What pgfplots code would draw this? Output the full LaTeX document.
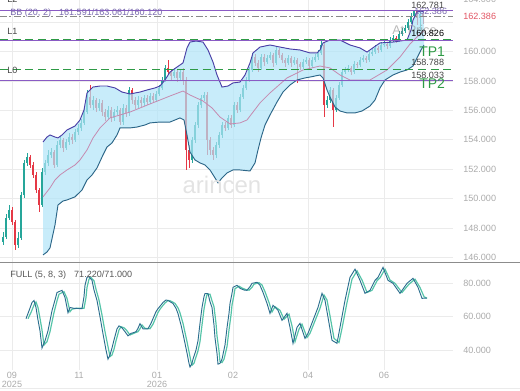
\documentclass[border=0pt]{standalone}
\usepackage{pgfplots}
\pgfplotsset{compat=1.18}
\usepackage{pgfplotstable}
\usepackage{fontspec}
\setmainfont{Liberation Sans}
\definecolor{cup}{HTML}{26A69A}
\definecolor{cdn}{HTML}{E53946}
\definecolor{bbfill}{HTML}{B0E4F8}
\definecolor{bbup}{HTML}{4A3FA6}
\definecolor{bblo}{HTML}{2C6688}
\definecolor{bbmid}{HTML}{C58AB0}
\definecolor{lvlpurple}{HTML}{8A5BC4}
\definecolor{lvlgreen}{HTML}{2E9A45}
\definecolor{ticklab}{HTML}{ABABAB}
\definecolor{gridc}{HTML}{EBEBEB}
\definecolor{stk}{HTML}{2B6E8E}
\definecolor{std}{HTML}{55C4A8}
\definecolor{pricered}{HTML}{E25563}
\definecolor{bbtext}{HTML}{7A6AAE}
\definecolor{divc}{HTML}{8C8C8C}
\definecolor{dgray}{HTML}{444444}

\pgfplotstableread{
x o h l c
3 147.05 147.73 146.85 147.39
6 147.39 148.96 147.26 148.69
9 148.69 149.57 148.55 149.23
12 149.23 149.43 148.21 148.41
15 148.41 148.55 146.51 146.85
18 146.85 147.73 146.65 147.33
21 147.33 150.45 147.19 150.25
24 150.25 152.63 150.05 152.43
27 152.43 153.11 152.22 152.83
30 152.83 152.97 152.09 152.29
33 152.29 152.49 151.41 151.61
36 151.61 151.81 150.39 150.59
39 150.59 150.73 149.09 149.57
42 149.57 152.09 149.43 151.81
45 151.81 152.63 151.61 152.43
48 152.43 153.31 152.22 152.97
51 152.97 153.45 152.77 153.17
54 153.17 153.31 152.09 152.29
57 152.29 153.92 152.15 153.65
60 153.65 154.26 153.45 153.99
63 153.99 154.13 153.17 153.45
66 153.45 154.06 153.31 153.85
69 153.85 154.47 153.65 154.19
72 154.19 154.40 153.72 153.99
75 153.99 154.74 153.85 154.53
78 154.53 155.08 154.33 154.81
81 154.81 155.42 154.60 155.15
84 155.15 156.17 155.01 155.89
87 155.89 157.39 155.76 156.91
90 156.91 157.73 156.17 156.37
93 156.37 156.98 156.03 156.71
96 156.71 156.85 155.89 156.17
99 156.17 156.78 155.96 156.51
102 156.51 156.71 155.62 155.89
105 155.89 156.10 155.28 155.55
108 155.55 156.30 155.42 156.03
111 156.03 156.23 155.21 155.49
114 155.49 156.10 155.28 155.89
117 155.89 156.30 155.69 156.03
120 156.03 156.17 155.01 155.21
123 155.21 156.44 155.01 156.17
126 156.17 156.37 155.55 155.83
129 155.83 157.59 155.62 157.39
132 157.39 157.53 156.44 156.71
135 156.71 156.91 156.10 156.37
138 156.37 156.98 156.17 156.71
141 156.71 156.91 156.23 156.51
144 156.51 157.05 156.30 156.85
147 156.85 157.05 156.37 156.57
150 156.57 157.19 156.44 156.98
153 156.98 157.19 156.51 156.71
156 156.71 157.32 156.57 157.12
159 157.12 157.73 156.98 157.53
162 157.53 158.27 157.39 158.07
165 158.07 159.09 157.93 158.89
168 158.89 159.43 158.41 158.61
171 158.61 158.75 158.07 158.34
174 158.34 158.89 158.21 158.61
177 158.61 158.75 157.93 158.21
180 158.21 158.82 158.07 158.61
183 158.61 158.89 157.73 158.07
186 158.07 158.27 151.95 153.31
189 153.31 153.65 152.09 152.63
192 152.63 154.19 152.43 153.99
195 153.99 155.21 153.79 155.01
198 155.01 156.57 154.81 156.37
201 156.37 157.05 156.17 156.85
204 156.85 157.25 156.64 157.05
207 157.05 157.25 152.97 153.99
210 153.99 154.19 152.97 153.31
213 153.31 153.51 152.63 152.97
216 152.97 153.85 152.77 153.65
219 153.65 154.53 153.45 154.33
222 154.33 155.21 154.13 155.01
225 155.01 155.21 154.60 154.81
228 154.81 155.69 154.67 155.49
231 155.49 155.69 154.81 155.01
234 155.01 156.57 154.87 156.37
237 156.37 156.57 155.83 156.03
240 156.03 157.12 155.89 156.91
243 156.91 157.73 156.78 157.53
246 157.53 158.27 157.39 158.07
249 158.07 158.95 157.93 158.75
252 158.75 159.91 158.61 159.63
255 159.63 159.84 159.02 159.23
258 159.23 159.43 158.61 158.89
261 158.89 159.84 158.75 159.63
264 159.63 159.84 159.02 159.29
267 159.29 159.77 159.16 159.57
270 159.57 159.97 159.43 159.77
273 159.77 159.91 158.95 159.23
276 159.23 160.31 159.09 160.11
279 160.11 160.25 159.57 159.77
282 159.77 159.91 159.23 159.43
285 159.43 159.57 158.95 159.23
288 159.23 159.77 159.09 159.57
291 159.57 159.70 158.95 159.23
294 159.23 159.63 159.09 159.43
297 159.43 159.57 157.87 159.16
300 159.16 159.29 158.75 158.95
303 158.95 159.50 158.82 159.29
306 159.29 159.63 159.16 159.43
309 159.43 159.57 158.82 159.02
312 159.02 159.63 158.89 159.43
315 159.43 159.84 159.29 159.63
318 159.63 160.11 159.43 159.91
321 159.91 160.79 159.77 160.45
324 160.45 160.65 155.55 156.37
327 156.37 156.98 156.17 156.71
330 156.71 157.59 156.51 157.39
333 157.39 157.53 154.87 156.03
336 156.03 157.05 155.89 156.85
339 156.85 157.93 156.71 157.73
342 157.73 158.82 157.59 158.61
345 158.61 158.95 158.48 158.75
348 158.75 159.09 158.61 158.89
351 158.89 159.02 158.41 158.61
354 158.61 159.36 158.48 159.16
357 159.16 159.29 158.89 159.09
360 159.09 159.63 158.95 159.43
363 159.43 159.77 159.29 159.57
366 159.57 159.70 159.23 159.43
369 159.43 160.04 159.29 159.84
372 159.84 160.18 159.70 159.97
375 159.97 160.45 159.84 160.25
378 160.25 160.38 159.91 160.11
381 160.11 160.65 159.97 160.45
384 160.45 160.72 160.31 160.52
387 160.52 160.65 160.18 160.38
390 160.38 160.99 160.25 160.79
393 160.79 161.13 160.65 160.93
396 160.93 161.06 160.59 160.79
399 160.79 161.40 160.65 161.20
402 161.20 161.61 161.06 161.40
405 161.40 161.81 161.27 161.61
408 161.61 162.22 161.47 162.01
411 162.01 162.63 161.88 162.42
414 162.42 162.78 162.29 162.76
417 162.76 162.78 161.81 162.29
420 162.29 162.75 161.47 162.56
423 162.56 162.70 161.88 162.386
}\candles

\pgfplotsset{
  chartbase/.style={
    scale only axis, xmin=0, xmax=453,
    axis line style={draw=none}, tick style={draw=none},
    grid=major, major grid style={gridc, line width=0.5pt},
    yticklabel pos=right,
    yticklabel style={anchor=west, inner sep=0pt, xshift=7.5pt, text=ticklab, font=\fontsize{6.8}{7}\selectfont},
    /pgf/number format/.cd, fixed, fixed zerofill, precision=3, assume math mode=true,
    /pgfplots/.cd,
    xtick={12,79,157,233,308,384},
    clip=false,
  },
  candle/.style 2 args={draw=none, mark=none, forget plot,
    error bars/.cd, y dir=both, y explicit, error mark=none,
    error bar style={draw=#1, line width=#2}},
}
\tikzset{lbl/.style={anchor=west, inner sep=0pt, font=\fontsize{6.8}{7}\selectfont}}

\begin{document}
\begin{tikzpicture}
\useasboundingbox (0,0) rectangle (390pt,292.5pt);

\begin{axis}[chartbase, at={(0,96pt)}, anchor=south west,
  width=339.75pt, height=196.5pt, ymin=145.69, ymax=163.51,
  ytick={146,148,...,160}, extra y ticks={162}, extra y tick labels={},
  xticklabels={,,,,,}]

% candle wicks and bodies
\addplot[candle={cup}{0.45pt}]
  table[x expr={\thisrow{c}>=\thisrow{o} ? \thisrow{x} : nan}, y expr={0.5*(\thisrow{h}+\thisrow{l})}, y error expr={0.5*(\thisrow{h}-\thisrow{l})}]{\candles};
\addplot[candle={cdn}{0.45pt}]
  table[x expr={\thisrow{c}<\thisrow{o} ? \thisrow{x} : nan}, y expr={0.5*(\thisrow{h}+\thisrow{l})}, y error expr={0.5*(\thisrow{h}-\thisrow{l})}]{\candles};
\addplot[candle={cup}{1.4pt}]
  table[x expr={\thisrow{c}>=\thisrow{o} ? \thisrow{x} : nan}, y expr={0.5*(\thisrow{o}+\thisrow{c})}, y error expr={max(0.5*abs(\thisrow{c}-\thisrow{o}),0.012)}]{\candles};
\addplot[candle={cdn}{1.4pt}]
  table[x expr={\thisrow{c}<\thisrow{o} ? \thisrow{x} : nan}, y expr={0.5*(\thisrow{o}+\thisrow{c})}, y error expr={max(0.5*abs(\thisrow{c}-\thisrow{o}),0.012)}]{\candles};

% Bollinger band fill
\addplot[fill=bbfill, fill opacity=0.7, draw=none, forget plot] coordinates {
(43,153.85) (47,154.19) (50,154.33) (55,154.19) (58,154.13) (62,154.33) (67,154.67) (75,154.94) (80,155.35) (84,156.03) (87,157.19) (93,157.59) (100,157.66) (107,157.66) (115,157.53) (122,157.25) (130,157.12) (140,157.25) (147,157.39) (155,157.53) (160,157.66) (165,158.07) (170,158.61) (177,158.95) (183,159.23) (187,160.25) (190,160.65) (196,160.72) (203,160.65) (208,160.11) (213,159.29) (217,158.41) (222,157.59) (228,157.66) (233,157.87) (240,157.93) (245,158.41) (250,159.23) (253,159.91) (260,160.31) (270,160.45) (280,160.31) (290,160.18) (300,160.11) (310,159.91) (317,159.91) (320,160.11) (323,160.59) (330,160.79) (340,160.79) (350,160.45) (360,160.25) (367,159.97) (374,160.31) (380,160.59) (393,160.65) (407,160.79) (411,161.47) (413,162.15) (417,162.69) (421,162.76) (424,162.69)
(424,160.45) (421,160.11) (417,159.57) (413,159.02) (407,158.75) (400,158.61) (393,158.41) (385,158.07) (380,157.53) (375,156.71) (370,156.30) (362,155.96) (355,155.83) (347,155.83) (340,155.96) (335,156.23) (330,156.91) (327,157.39) (323,158.21) (320,158.41) (310,158.27) (305,158.21) (297,158.07) (290,157.73) (283,157.25) (277,156.57) (270,155.69) (265,155.01) (261,154.13) (258,153.31) (255,152.43) (250,151.88) (240,151.95) (233,151.95) (227,151.75) (222,151.41) (218,151.07) (215,151.41) (210,151.95) (205,152.29) (200,152.43) (195,152.63) (190,153.17) (187,154.33) (184,155.35) (180,155.49) (170,155.21) (160,155.21) (150,155.15) (145,155.01) (137,154.87) (130,154.81) (125,154.81) (120,154.81) (117,154.33) (112,153.79) (107,153.51) (103,152.97) (97,152.09) (92,151.61) (87,151.27) (82,150.59) (75,150.12) (67,149.91) (63,149.84) (58,149.57) (55,148.21) (50,146.65) (47,146.37) (43,146.17)
};
% middle band
\addplot[bbmid, line width=0.6pt] coordinates {
(43,150.12) (50,150.73) (55,151.27) (60,151.61) (67,151.95) (75,152.29) (80,152.63) (87,153.31) (93,154.13) (100,154.81) (110,155.49) (120,155.69) (130,155.89) (150,156.44) (170,156.98) (183,157.32) (190,157.05) (203,156.64) (212,156.17) (220,155.55) (230,155.08) (240,155.15) (247,155.35) (260,156.51) (270,157.19) (287,158.21) (303,158.75) (320,159.02) (330,158.89) (340,158.41) (350,158.07) (370,158.07) (387,158.75) (400,159.63) (410,160.52) (420,161.20) (424,161.40)
};
% upper band
\addplot[bbup, line width=0.7pt] coordinates {
(43,153.85) (47,154.19) (50,154.33) (55,154.19) (58,154.13) (62,154.33) (67,154.67) (75,154.94) (80,155.35) (84,156.03) (87,157.19) (93,157.59) (100,157.66) (107,157.66) (115,157.53) (122,157.25) (130,157.12) (140,157.25) (147,157.39) (155,157.53) (160,157.66) (165,158.07) (170,158.61) (177,158.95) (183,159.23) (187,160.25) (190,160.65) (196,160.72) (203,160.65) (208,160.11) (213,159.29) (217,158.41) (222,157.59) (228,157.66) (233,157.87) (240,157.93) (245,158.41) (250,159.23) (253,159.91) (260,160.31) (270,160.45) (280,160.31) (290,160.18) (300,160.11) (310,159.91) (317,159.91) (320,160.11) (323,160.59) (330,160.79) (340,160.79) (350,160.45) (360,160.25) (367,159.97) (374,160.31) (380,160.59) (393,160.65) (407,160.79) (411,161.47) (413,162.15) (417,162.69) (421,162.76) (424,162.69)
};
% lower band
\addplot[bblo, line width=0.7pt] coordinates {
(43,146.17) (47,146.37) (50,146.65) (55,148.21) (58,149.57) (63,149.84) (67,149.91) (75,150.12) (82,150.59) (87,151.27) (92,151.61) (97,152.09) (103,152.97) (107,153.51) (112,153.79) (117,154.33) (120,154.81) (125,154.81) (130,154.81) (137,154.87) (145,155.01) (150,155.15) (160,155.21) (170,155.21) (180,155.49) (184,155.35) (187,154.33) (190,153.17) (195,152.63) (200,152.43) (205,152.29) (210,151.95) (215,151.41) (218,151.07) (222,151.41) (227,151.75) (233,151.95) (240,151.95) (250,151.88) (255,152.43) (258,153.31) (261,154.13) (265,155.01) (270,155.69) (277,156.57) (283,157.25) (290,157.73) (297,158.07) (305,158.21) (310,158.27) (320,158.41) (323,158.21) (327,157.39) (330,156.91) (335,156.23) (340,155.96) (347,155.83) (355,155.83) (362,155.96) (370,156.30) (375,156.71) (380,157.53) (385,158.07) (393,158.41) (400,158.61) (407,158.75) (413,159.02) (417,159.57) (421,160.11) (424,160.45)
};

% level lines
\addplot[lvlpurple, line width=0.9pt] coordinates {(0,162.781) (453,162.781)};
\addplot[ticklab!80!black, line width=0.7pt, dash pattern=on 5pt off 2pt on 1.5pt off 2pt] coordinates {(0,162.386) (453,162.386)};
\addplot[lvlpurple, line width=0.9pt] coordinates {(0,160.76) (453,160.76)};
\addplot[lvlgreen, line width=1.3pt, dash pattern=on 6pt off 3.5pt] coordinates {(0,160.826) (453,160.826)};
\addplot[lvlpurple, line width=0.9pt] coordinates {(0,158.033) (453,158.033)};
\addplot[lvlgreen, line width=1.3pt, dash pattern=on 6pt off 3.5pt] coordinates {(0,158.788) (453,158.788)};

% texts
\node[lbl, text=dgray] at (axis cs:7,163.58) {L2};
\node[lbl, text=bbtext] at (axis cs:10,162.59) {BB (20, 2)\hspace{6pt}161.591/163.061/160.120};
\node[lbl, text=dgray] at (axis cs:7,161.37) {L1};
\node[lbl, text=dgray] at (axis cs:7,158.72) {L0};
\node[lbl, text=dgray] at (axis cs:411,163.17) {162.781};
\node[lbl, text=bbtext] at (axis cs:414,162.76) {162.386};
\node[lbl, text=gray, opacity=0.55, font=\fontsize{9.5}{10}\selectfont] at (axis cs:392,161.47) {At Price};
\node[lbl, text=black] at (axis cs:411,161.27) {160.826};
\node[lbl, text=lvlgreen, font=\fontsize{10.5}{11}\selectfont] at (axis cs:419,159.97) {TP1};
\node[lbl, text=dgray] at (axis cs:411,159.29) {158.788};
\node[lbl, text=dgray] at (axis cs:411,158.38) {158.033};
\node[lbl, text=lvlgreen, font=\fontsize{10.5}{11}\selectfont] at (axis cs:419,157.83) {TP2};
\node[lbl, text=ticklab] at (axis cs:463,163.58) {164.000};
\node[lbl, text=pricered] at (axis cs:463,162.386) {162.386};
\node[anchor=center, text=black!11, font=\fontsize{18}{19}\selectfont] at (axis cs:222,150.93) {arincen};
\end{axis}

\begin{axis}[chartbase, at={(0,15pt)}, anchor=south west,
  width=339.75pt, height=80.25pt, ymin=28, ymax=92.2, ytick={40,60,80},
  xticklabels={{09\\2025},11,{01\\2026},02,04,06},
  xticklabel style={align=center, text=ticklab, inner sep=1.5pt, font=\fontsize{6.8}{6.3}\selectfont}]
\addplot[std, line width=0.9pt] coordinates {
(28,58.8) (31,62.5) (34,67) (36,68.8) (38,65.5) (40,59) (42,52) (44,43) (47,45) (50,51) (54,62.5) (57,69.5) (59,73.5) (64,75) (67,71) (70,63) (72,64.5) (76,65) (84,65) (86,71.5) (87,77.5) (89,82.5) (91,83.5) (94,81.5) (96,76.5) (99,70) (102,61) (105,51) (108,42) (110,36) (112,37) (114,40.5) (116,45.5) (119,52) (121,54) (124,53.3) (127,51.5) (130,49) (133,49.8) (135,50.3) (138,51) (140,52.8) (142,55) (145,53) (150,52.8) (153,55.5) (155,58.3) (158,62.5) (160,64.5) (163,66.8) (165,68.2) (168,69.7) (170,69.6) (175,68) (178,65.3) (180,62.3) (183,56) (185,50.5) (187,45) (189,39) (191,33) (192,30.8) (194,32) (195,34) (198,39.5) (200,45) (202,55) (204,64.5) (206,71) (207,73.3) (210,73.5) (212,69.5) (214,66) (216,56) (217,48.5) (219,39.5) (220,33) (222,32.5) (224,34.5) (227,42) (229,52) (231,61) (232,67) (234,73) (235,76.8) (239,78.3) (242,77.2) (246,76.2) (249,75.9) (252,77.6) (254,79.5) (259,80.4) (262,79) (265,75) (269,68.5) (272,62.8) (275,66) (280,63.8) (284,58.5) (289,61.5) (292,54.5) (295,45) (299,52.5) (302,55.5) (307,47.5) (310,50) (315,57.5) (320,65) (324,73) (327,70) (330,60.5) (334,47) (339,44.5) (342,53) (347,68.5) (352,82.5) (357,87.5) (362,82) (367,74.5) (372,75.8) (377,81.5) (380,83.3) (385,88.5) (390,82) (395,80) (402,74.5) (409,79.5) (415,82.5) (420,77.5) (424,72) (427,71.0)
};
\addplot[stk, line width=0.7pt] coordinates {
(26,58.8) (29,63.5) (32,68.5) (34,69.7) (36,65.5) (38,58) (40,51.5) (42,41.2) (45,45.5) (48,51.5) (52,63.6) (55,70) (57,74.5) (62,75.8) (65,71.5) (68,62.4) (70,65.5) (74,65) (82,64.8) (84,72) (85,78.8) (87,83.6) (89,84) (92,81.8) (94,76) (97,69.7) (100,60) (103,49.7) (106,40) (108,34.5) (110,37) (112,41.2) (114,46) (117,52.7) (119,54.5) (122,53.3) (125,51) (128,48.5) (131,50) (133,50.3) (136,51) (138,53) (140,55.8) (143,52.7) (148,52.7) (151,56) (153,58.8) (156,63) (158,64.8) (161,67) (163,68.5) (166,70) (168,69.7) (173,67.9) (176,65) (178,61.8) (181,55) (183,49.7) (185,44) (187,38.2) (189,32) (190,29.8) (192,32) (193,34.5) (196,40) (198,45.5) (200,56) (202,65.5) (204,72) (205,73.9) (208,73.9) (210,69) (212,65.5) (214,55) (215,47.3) (217,38) (218,31.5) (220,32) (222,34.5) (225,43) (227,53.3) (229,62) (230,67.9) (232,74) (233,77.6) (237,78.8) (240,77) (244,76) (247,75.8) (250,78) (252,80) (257,80.6) (260,78.8) (263,74.6) (267,68) (270,62) (273,66.8) (278,63.8) (282,57.8) (287,62) (290,53.6) (293,44) (297,53.6) (300,56) (305,47) (308,50) (313,57.8) (318,65.6) (322,74) (325,69.8) (328,59.6) (332,45.8) (337,44) (340,53.6) (345,69.8) (350,83.6) (355,88.5) (360,81.8) (365,74) (370,75.8) (375,81.8) (378,83.6) (383,89.6) (388,81.8) (393,80) (400,74) (407,80) (413,83) (418,77.6) (422,71) (427,71.22)
};
\node[lbl, text=dgray!90] at (axis cs:10,85) {FULL (5, 8, 3)\hspace{6pt}71.220/71.000};
\end{axis}

\draw[divc, line width=1.1pt] (0,95.6pt) -- (390pt,95.6pt);
\draw[gridc, line width=0.8pt] (0,1.2pt) -- (390pt,1.2pt);
\end{tikzpicture}
\end{document}
